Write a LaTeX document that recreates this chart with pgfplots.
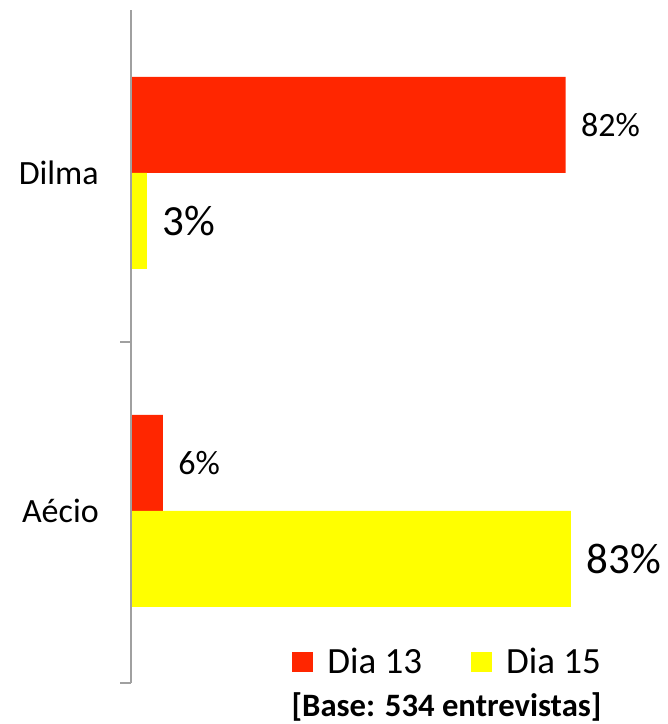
\documentclass[border=0pt]{standalone}
\usepackage{fontspec}
\setmainfont{Carlito}
\usepackage{pgfplots}
\pgfplotsset{compat=1.18}
\definecolor{barred}{RGB}{255,38,0}
\definecolor{baryellow}{RGB}{255,255,0}
\definecolor{axgray}{RGB}{160,160,160}
\begin{document}
\begin{tikzpicture}
\useasboundingbox (0pt,0pt) rectangle (500.25pt,543pt);
\begin{axis}[
  at={(98.25pt,30.75pt)}, anchor=south west,
  scale only axis, width=397.5pt, height=504.75pt,
  xbar, bar width=72pt,
  xmin=0, xmax=100, ymin=-0.509, ymax=1.482,
  axis x line=none, axis y line*=left,
  axis line style={draw=axgray, line width=1.5pt},
  axis on top, clip=false,
  ytick={0,1}, yticklabels={Aécio,Dilma},
  major tick length=0pt,
  yticklabel style={font=\fontsize{25.5pt}{30pt}\selectfont, anchor=east, inner sep=0pt, xshift=-24pt},
  extra y ticks={-0.509,0.5}, extra y tick labels={},
  extra y tick style={major tick length=8pt, tick align=outside, tick style={draw=axgray, line width=1.5pt}},
  /pgf/number format/assume math mode=true,
  nodes near coords={\pgfmathprintnumber{\pgfplotspointmeta}\%},
  nodes near coords style={anchor=west, inner sep=0pt, xshift=11.5pt, text=black},
  legend style={at={(0.3038,0.031)}, anchor=west, draw=none, fill=none, inner sep=0pt,
    legend columns=2, font=\fontsize{27.75pt}{32pt}\selectfont,
    nodes={inner sep=0pt},
    /tikz/every odd column/.append style={column sep=10.5pt},
    /tikz/every even column/.append style={column sep=36.75pt}},
  legend image code/.code={\fill[#1] (0pt,-7.5pt) rectangle (15.75pt,7.5pt);},
]
\addplot[fill=barred, draw=none, bar shift=36pt,
  nodes near coords style={font=\fontsize{25.5pt}{30pt}\selectfont}]
  coordinates {(82,1) (6,0)};
\addlegendentry{Dia 13}
\addplot[fill=baryellow, draw=none, bar shift=-36pt,
  nodes near coords style={font=\fontsize{32.25pt}{38pt}\selectfont}]
  coordinates {(3,1) (83,0)};
\addlegendentry{Dia 15}
\end{axis}
\node[anchor=base, inner sep=0pt, font=\fontsize{24.5pt}{29pt}\selectfont\bfseries] at (334.9pt,5.5pt) {[Base: 534 entrevistas]};
\end{tikzpicture}
\end{document}
